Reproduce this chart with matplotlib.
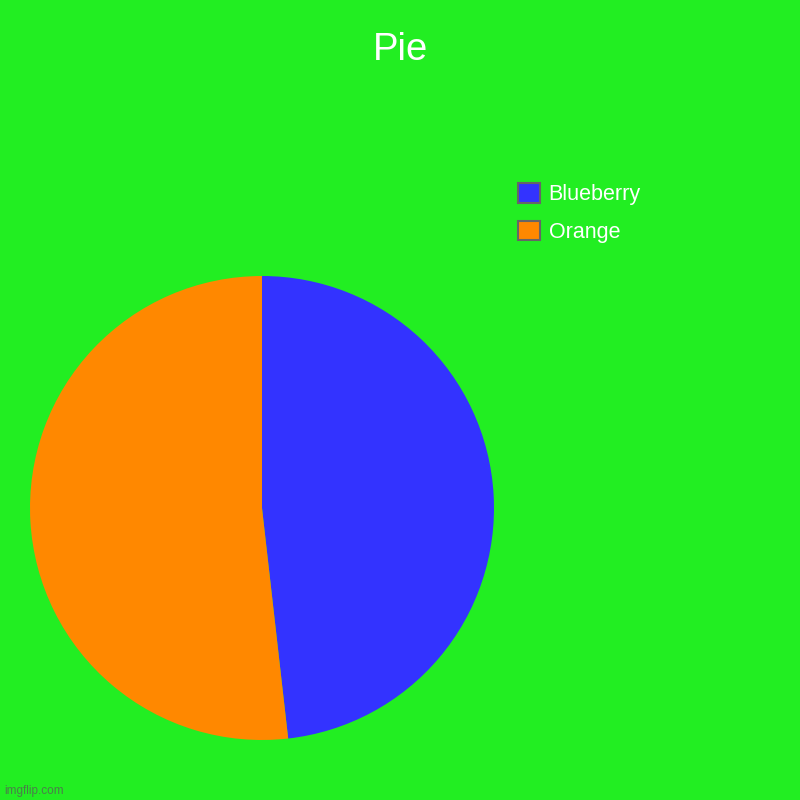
import matplotlib.pyplot as plt
from matplotlib.patches import Patch

# Data
labels = ['Blueberry', 'Orange']
values = [48.2, 51.8]
colors = ['#3333ff', '#ff8800']
bg = '#22ee22'

plt.rcParams['font.family'] = ['Liberation Sans', 'DejaVu Sans']

fig = plt.figure(figsize=(8, 8), dpi=100, facecolor=bg)

# pie axes, in pixel units converted to figure fraction
ax = fig.add_axes([30 / 800, 60 / 800, 464 / 800, 464 / 800])
ax.set_facecolor(bg)
ax.pie(values, colors=colors, startangle=90, counterclock=False, radius=1,
       wedgeprops=dict(linewidth=0))
ax.set_xlim(-1, 1)
ax.set_ylim(-1, 1)
ax.set_aspect('equal')
ax.axis('off')

fig.text(0.5, 1 - 50 / 800, 'Pie', color='white', fontsize=27.5,
         ha='center', va='center')

handles = [Patch(facecolor=c, edgecolor='#666666', linewidth=1.5) for c in colors]
leg = fig.legend(handles, labels, loc='upper left',
                 bbox_to_anchor=(512 / 800, 1 - 177 / 800),
                 frameon=False, fontsize=15.5, labelcolor='white',
                 handlelength=1.0, handleheight=1.0, handletextpad=0.4,
                 labelspacing=0.72, borderaxespad=0, borderpad=0.3)

fig.text(4 / 800, 1 - 791 / 800, 'imgflip.com', color='#4a7f4a',
         fontsize=8.5, ha='left', va='center')

fig.savefig('out.png', dpi=100, facecolor=bg)
